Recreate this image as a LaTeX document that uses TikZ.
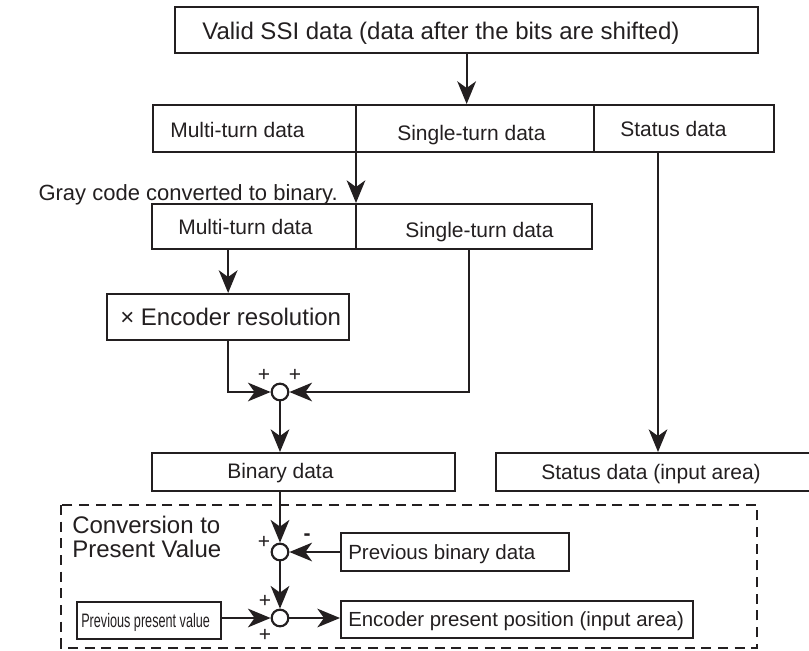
\documentclass[tikz,border=0pt]{standalone}
\usepackage{fontspec}
\usepackage{graphicx}
\setmainfont{Liberation Sans}
\usetikzlibrary{arrows.meta}
\definecolor{ink}{RGB}{35,31,32}
\newcommand\szL{\fontsize{18pt}{21pt}\selectfont}
\newcommand\szM{\fontsize{15.75pt}{18pt}\selectfont}
\newcommand\szB{\fontsize{15.4pt}{18pt}\selectfont}
\begin{document}
\begin{tikzpicture}[x=0.75pt,y=-0.75pt,
  boxst/.style={draw=ink, line width=1.7pt, inner sep=0pt, anchor=north west, rectangle},
  lbl/.style={anchor=base west, inner sep=0pt, text=ink},
  lble/.style={anchor=base east, inner sep=0pt, text=ink},
  ln/.style={draw=ink, line width=1.7pt},
  arr/.style={draw=ink, line width=1.6pt, -{Stealth[length=17pt,width=14pt,inset=5pt]}},
  sumst/.style={circle, draw=ink, line width=1.6pt, minimum size=12.5pt, inner sep=0pt, fill=white},
  sgn/.style={inner sep=0pt, text=ink, font=\szM},
  frame/.style={draw=ink, line width=1.6pt, dash pattern=on 7.5pt off 5pt}
]
\useasboundingbox (0,0) rectangle (809,650);

% top box
\node[boxst, minimum width=437.25pt, minimum height=34.5pt] (top) at (174,6) {};
\node[lbl, font=\szL] (topt) at (202,39) {Valid SSI data (data after the bits are shifted)};

% row 2
\node[boxst, minimum width=465.75pt, minimum height=35.25pt] (row2) at (152,104) {};
\draw[ln] (356,104) -- (356,151);
\draw[ln] (594,104) -- (594,151);
\node[lbl, font=\szM] (r2a) at (170,137) {Multi-turn data};
\node[lbl, font=\szM] (r2b) at (397,140) {Single-turn data};
\node[lbl, font=\szM] (r2c) at (620,136) {Status data};

% gray code text
\node[lble, font=\fontsize{16.5pt}{19pt}\selectfont] (gray) at (338,200) {Gray code converted to binary.};

% row 3
\node[boxst, minimum width=330pt, minimum height=33.75pt] (row3) at (151,203) {};
\draw[ln] (356,203) -- (356,248);
\node[lbl, font=\szM] (r3a) at (178,234) {Multi-turn data};
\node[lbl, font=\szM] (r3b) at (405,237) {Single-turn data};

% x encoder resolution
\node[boxst, minimum width=181.5pt, minimum height=34.5pt] (xbox) at (106,293) {};
\node[lbl, font=\szL] (xboxt) at (120,325) {× Encoder resolution};

% first summing junction
\node[sumst] (s0) at (280,392) {};
\node[sgn] (s0a) at (264,375) {+};
\node[sgn] (s0b) at (295,375) {+};

% binary data and status data
\node[boxst, minimum width=227.25pt, minimum height=28.5pt] (bin) at (151,452) {};
\node[lbl, font=\szM] (bint) at (227,478) {Binary data};
\node[boxst, minimum width=237pt, minimum height=28.5pt] (stat) at (495,452) {};
\node[lbl, font=\szM] (statt) at (541,479) {Status data (input area)};

% dashed frame
\draw[frame] (61,505) rectangle (757,648);
\node[lbl, font=\szL] (conv1) at (72,533) {Conversion to};
\node[lbl, font=\szL] (conv2) at (72,557) {Present Value};

% second and third junctions
\node[sumst] (s1) at (280,552) {};
\node[sgn] (s1a) at (264,542) {+};
\node[sgn, font=\bfseries\szM] (s1b) at (307,537) {-};
\node[boxst, minimum width=171pt, minimum height=28.5pt] (pbin) at (340,532) {};
\node[lbl, font=\szB] (pbint) at (348,559) {Previous binary data};

\node[sumst] (s2) at (280,618) {};
\node[sgn] (s2a) at (265,601) {+};
\node[sgn] (s2b) at (265,635) {+};
\node[boxst, minimum width=108pt, minimum height=27.75pt] (ppv) at (76,601) {};
\node[lbl] (ppvt) at (81,627) {\scalebox{0.65}[1]{\fontsize{14.6pt}{16pt}\selectfont Previous present value}};
\node[boxst, minimum width=264pt, minimum height=27.75pt] (enc) at (340,600) {};
\node[lbl, font=\fontsize{15.3pt}{18pt}\selectfont] (enct) at (348,626) {Encoder present position (input area)};

% connectors
\coordinate (d1) at (356,151);
\coordinate (st) at (469,248);
\coordinate (sd) at (658,151);
\draw[arr] (top.south) -- (top.south |- row2.north);
\draw[arr] (d1) -- (d1 |- row3.north);
\draw[arr] (xbox.north |- row3.south) -- (xbox.north);
\draw[arr] (xbox.south) -- (xbox.south |- s0) -- (s0.west);
\draw[arr] (st) -- (st |- s0) -- (s0.east);
\draw[arr] (s0.south) -- (s0.south |- bin.north);
\draw[arr] (sd) -- (sd |- stat.north);
\draw[arr] (s1 |- bin.south) -- (s1.north);
\draw[arr] (s1 -| pbin.west) -- (s1.east);
\draw[arr] (s1.south) -- (s2.north);
\draw[arr] (s2 -| ppv.east) -- (s2.west);
\draw[arr] (s2.east) -- (s2 -| enc.west);
\end{tikzpicture}
\end{document}
